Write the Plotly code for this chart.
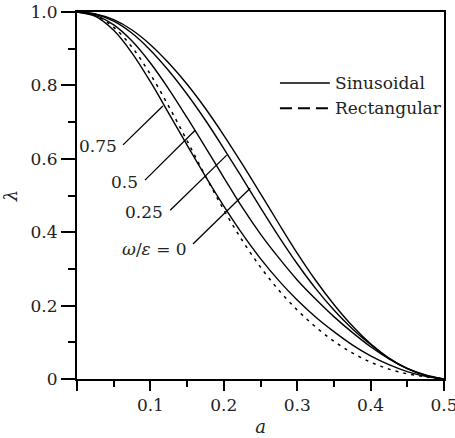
import plotly.graph_objects as go

# abscissa a and lambda values
a_vals = [0, 0.025, 0.05, 0.075, 0.1, 0.125, 0.15, 0.175, 0.2, 0.225, 0.25,
          0.275, 0.3, 0.325, 0.35, 0.375, 0.4, 0.425, 0.45, 0.475, 0.5]

sin_0 = [1.0, 0.995, 0.979, 0.951, 0.911, 0.861, 0.803, 0.737, 0.664, 0.586, 0.505,
         0.423, 0.343, 0.269, 0.203, 0.145, 0.096, 0.057, 0.028, 0.009, 0.0]
sin_025 = [1.0, 0.994, 0.975, 0.942, 0.896, 0.840, 0.776, 0.705, 0.628, 0.548, 0.467,
           0.388, 0.314, 0.247, 0.188, 0.137, 0.094, 0.056, 0.028, 0.010, 0.0]
sin_05 = [1.0, 0.991, 0.965, 0.921, 0.861, 0.790, 0.712, 0.631, 0.549, 0.468, 0.395,
          0.330, 0.270, 0.218, 0.170, 0.127, 0.088, 0.055, 0.029, 0.011, 0.0]
sin_075 = [1.0, 0.988, 0.950, 0.888, 0.810, 0.724, 0.637, 0.552, 0.471, 0.396, 0.328,
           0.268, 0.215, 0.169, 0.129, 0.093, 0.063, 0.039, 0.020, 0.007, 0.0]
rect = [1.0, 0.990, 0.958, 0.904, 0.830, 0.743, 0.649, 0.553, 0.461, 0.378, 0.305,
        0.242, 0.188, 0.142, 0.103, 0.071, 0.046, 0.027, 0.014, 0.006, 0.0]

x_ticks = [0, 0.1, 0.2, 0.3, 0.4, 0.5]
x_ticktext = ["", "0.1", "0.2", "0.3", "0.4", "0.5"]
y_ticks = [0, 0.2, 0.4, 0.6, 0.8, 1.0]
y_ticktext = ["0", "0.2", "0.4", "0.6", "0.8", "1.0"]

FONT = "DejaVu Serif, serif"
INK = "#222"
FS = 17

fig = go.Figure()
for ys in [sin_0, sin_025, sin_05, sin_075]:
    fig.add_trace(go.Scatter(x=a_vals, y=ys, mode="lines",
                             line=dict(color="black", width=1.4, shape="spline", smoothing=1)))
fig.add_trace(go.Scatter(x=a_vals, y=rect, mode="lines",
                         line=dict(color="black", width=1.5, dash="3px,5px",
                                   shape="spline", smoothing=1)))

# curve labels: text, text anchor (right/middle), leader start, leader end
labels = [
    ("0.75", (0.057, 0.635), (0.0627, 0.638), (0.117, 0.744)),
    ("0.5", (0.086, 0.537), (0.0926, 0.542), (0.161, 0.678)),
    ("0.25", (0.120, 0.455), (0.127, 0.460), (0.204, 0.610)),
    ("<i>ω</i>/<i>ε</i> = 0", (0.153, 0.355), (0.158, 0.368), (0.236, 0.520)),
]
for txt, pos, p0, p1 in labels:
    fig.add_shape(type="line", xref="x", yref="y", x0=p0[0], y0=p0[1], x1=p1[0], y1=p1[1],
                  line=dict(color="black", width=1.3))
    fig.add_annotation(x=pos[0], y=pos[1], text=txt, showarrow=False,
                       xanchor="right", yanchor="middle",
                       font=dict(family=FONT, size=FS, color=INK))

# legend drawn by hand
fig.add_shape(type="line", xref="paper", yref="paper", x0=0.553, x1=0.689, y0=0.8065, y1=0.8065,
              line=dict(color="black", width=1.6))
fig.add_shape(type="line", xref="paper", yref="paper", x0=0.553, x1=0.689, y0=0.738, y1=0.738,
              line=dict(color="black", width=2, dash="12px,6px"))
fig.add_annotation(xref="paper", yref="paper", x=0.698, y=0.8065, text="Sinusoidal",
                   showarrow=False, xanchor="left", yanchor="middle",
                   font=dict(family=FONT, size=FS, color=INK))
fig.add_annotation(xref="paper", yref="paper", x=0.698, y=0.738, text="Rectangular",
                   showarrow=False, xanchor="left", yanchor="middle",
                   font=dict(family=FONT, size=FS, color=INK))

fig.update_layout(
    width=455, height=438,
    margin=dict(l=77, r=11, t=12, b=59),
    paper_bgcolor="white", plot_bgcolor="white",
    showlegend=False,
    font=dict(family=FONT, size=FS, color=INK),
    xaxis=dict(range=[0, 0.5], tickmode="array", tickvals=x_ticks, ticktext=x_ticktext,
               ticks="outside", ticklen=10, tickwidth=2, tickcolor="black",
               ticklabeloverflow="allow",
               minor=dict(tickvals=[0.05, 0.15, 0.25, 0.35, 0.45], ticks="outside",
                          ticklen=6, tickwidth=2, tickcolor="black"),
               showline=True, linewidth=2, linecolor="black", mirror=True,
               showgrid=False, zeroline=False, automargin=False,
               title=dict(text="<i>a</i>", font=dict(family=FONT, size=18), standoff=6)),
    yaxis=dict(range=[0, 1], tickmode="array", tickvals=y_ticks, ticktext=y_ticktext,
               ticks="outside", ticklen=14, tickwidth=2, tickcolor="black",
               ticklabeloverflow="allow",
               minor=dict(tickvals=[0.1, 0.3, 0.5, 0.7, 0.9], ticks="outside",
                          ticklen=7, tickwidth=2, tickcolor="black"),
               showline=True, linewidth=2, linecolor="black", mirror=True,
               showgrid=False, zeroline=False, automargin=False,
               title=dict(text="<i>λ</i>", font=dict(family=FONT, size=18), standoff=14)),
)

# drop the default page margin so the figure sits at the window corner
fig.write_html("out.html", config={"displayModeBar": False},
               post_script="document.body.style.margin='0px';")
